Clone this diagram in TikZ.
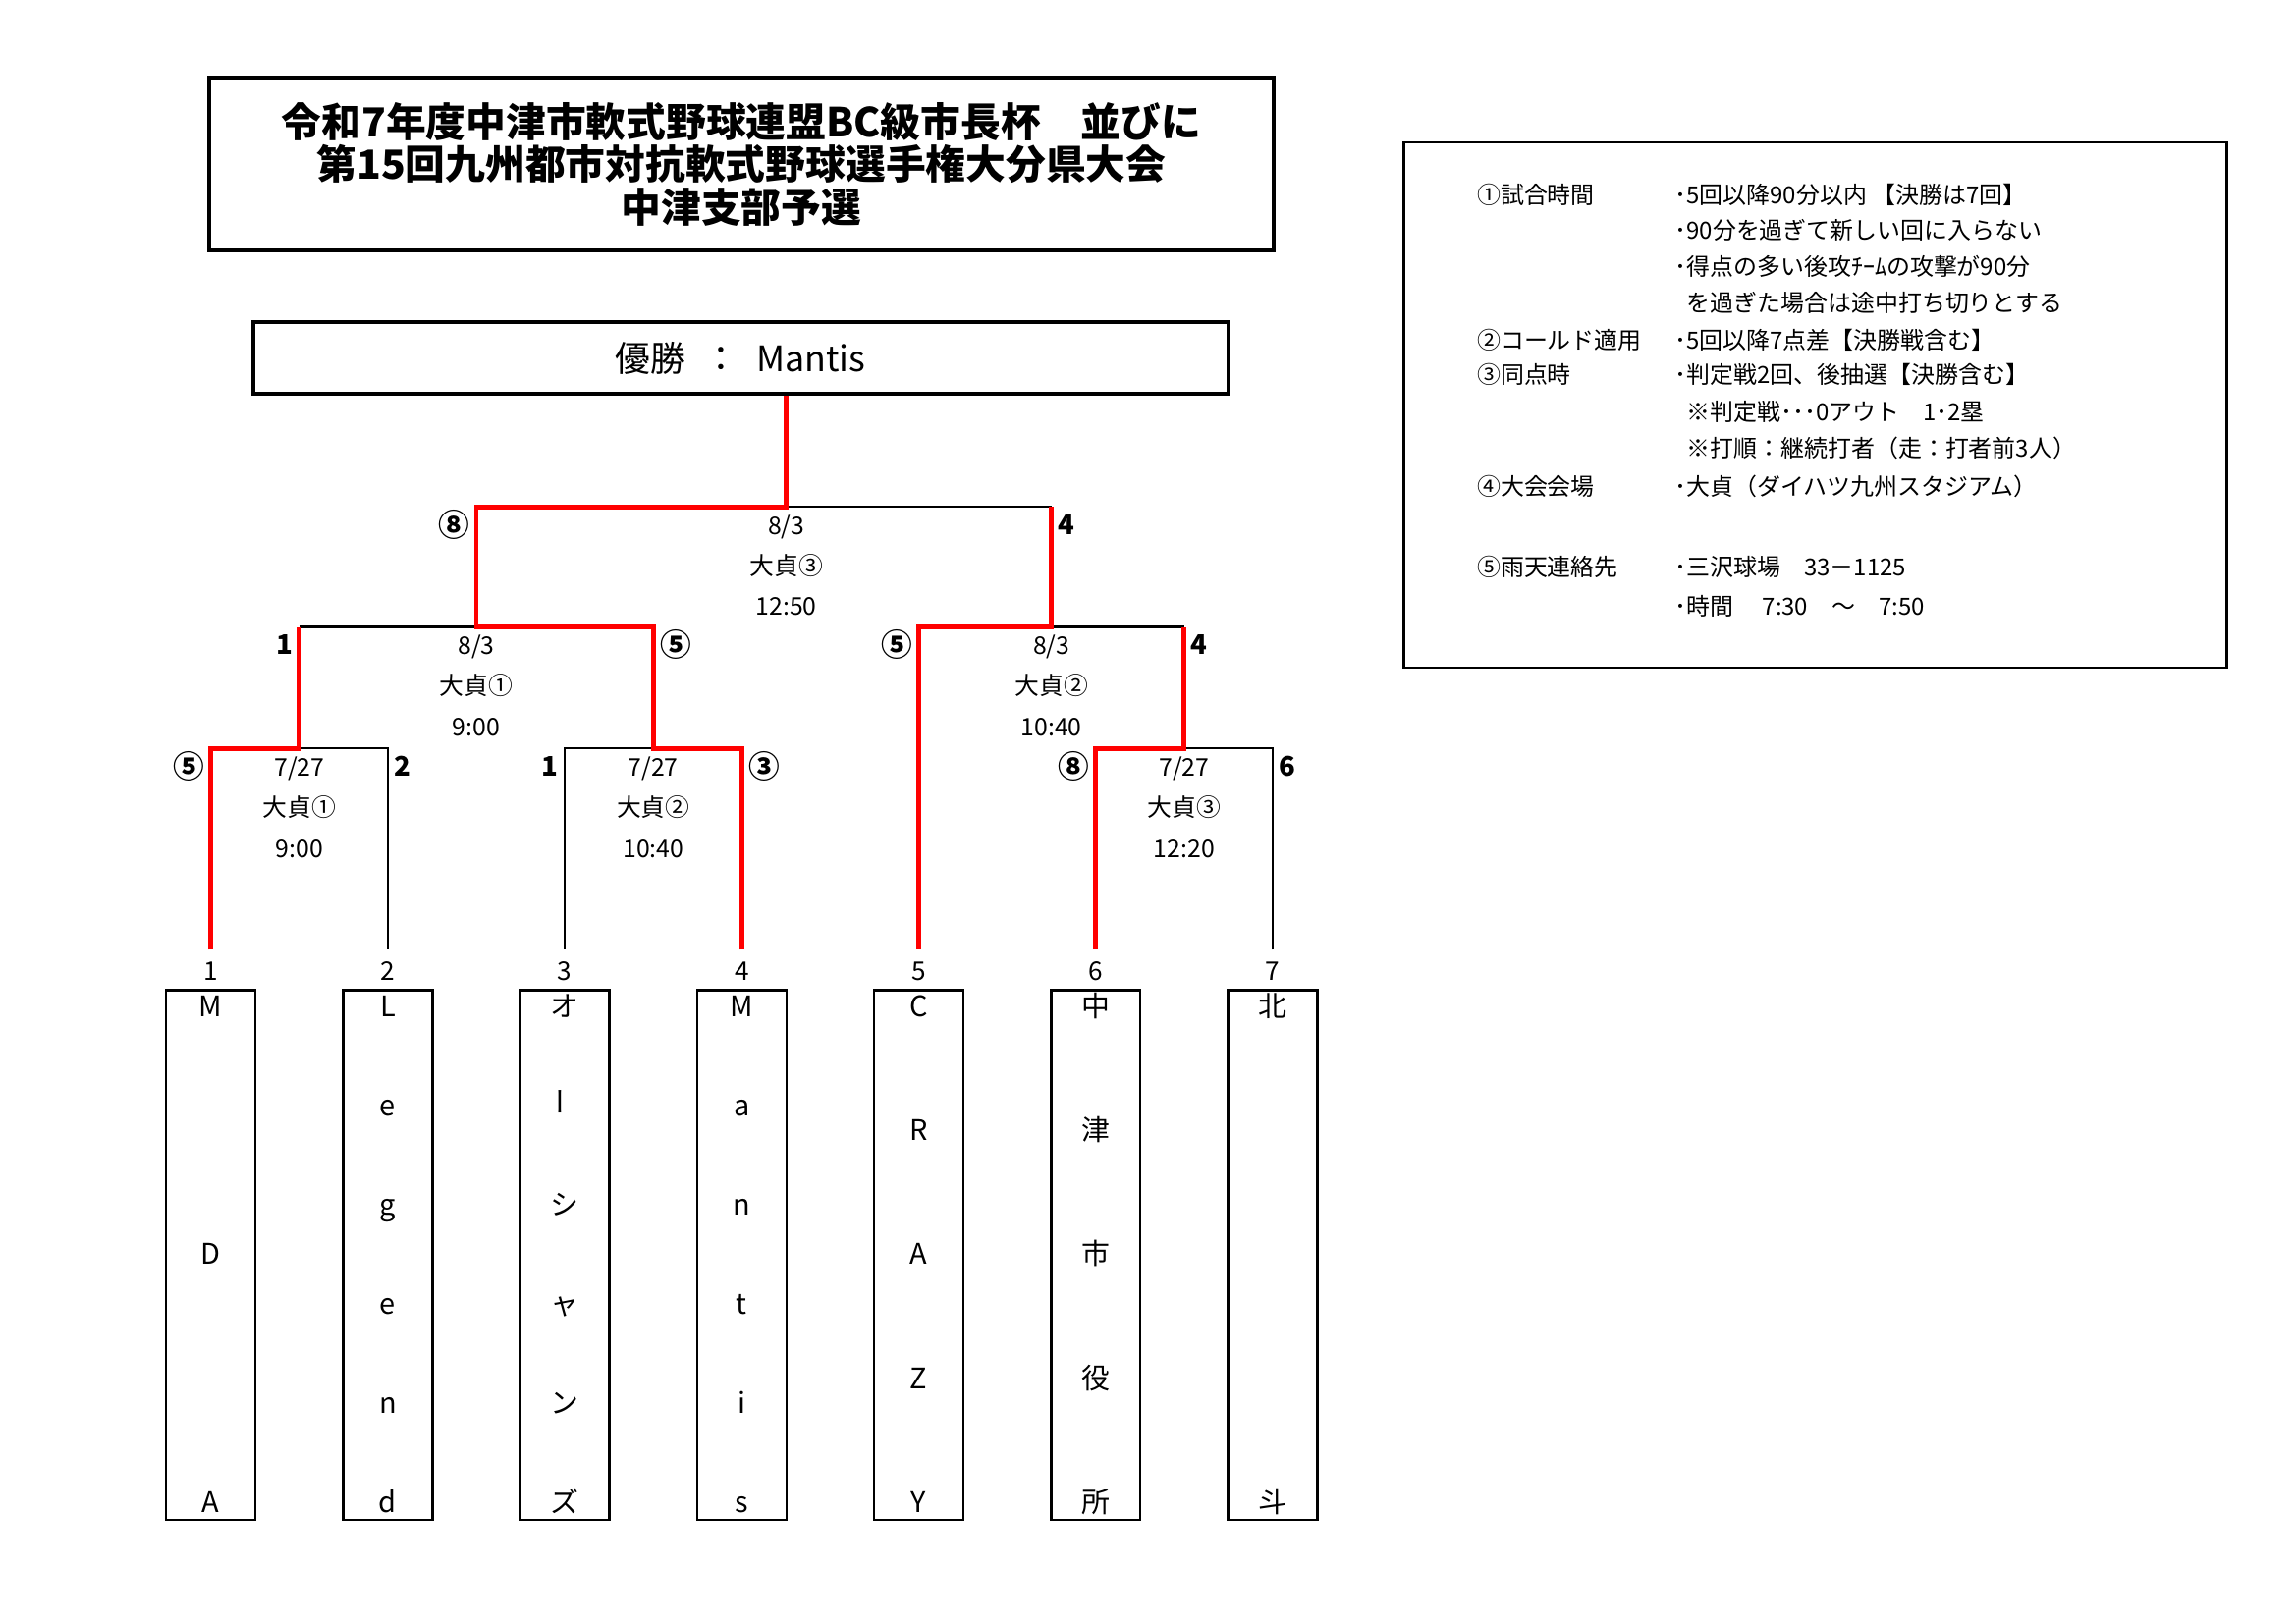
\documentclass[tikz,border=0pt]{standalone}
\usepackage{fontspec}
\setmainfont{Noto Sans CJK JP}
\usetikzlibrary{positioning}

\tikzset{
  team/.style={draw, line width=0.9pt, minimum width=1.16cm, minimum height=6.89cm, inner sep=0pt},
  letter/.style={inner sep=0pt, text height=0.75em, text depth=0.12em, font=\fontsize{10.5}{12}\selectfont},
  slot/.style={inner xsep=0pt, inner ysep=4.5pt, font=\fontsize{9.5}{11}\selectfont},
  lose/.style={line width=0.8pt},
  win/.style={red, line width=1.8pt},
  info/.style={align=center, anchor=north, inner sep=0pt, yshift=-0.1cm, font=\fontsize{9}{15}\selectfont},
  score/.style={inner sep=0pt, font=\bfseries\fontsize{10}{12}\selectfont},
  circ/.style={inner sep=0pt, font=\bfseries\fontsize{11.5}{12}\selectfont},
  note/.style={anchor=west, inner sep=0pt, font=\fontsize{8.7}{11}\selectfont},
}

\begin{document}
\begin{tikzpicture}
  \useasboundingbox (0,-0.1) rectangle (29.84,21);

  % Title
  \node[draw, line width=1.4pt, minimum width=13.83cm, minimum height=2.25cm, align=center,
        font=\bfseries\fontsize{14.8}{15.9}\selectfont] (title) at (9.635,18.865)
        {令和7年度中津市軟式野球連盟BC級市長杯　並びに\\第15回九州都市対抗軟式野球選手権大分県大会\\中津支部予選};

  % Champion
  \node[draw, line width=1.4pt, minimum width=12.67cm, minimum height=0.93cm,
        font=\fontsize{13}{15}\selectfont] (champ) at (9.625,16.345) {優勝\hspace{.5em}：\hspace{.5em}Mantis};

  % Teams
  \foreach \i in {1,...,7} {
    \node[team] (t\i) at ({2.74+2.3*(\i-1)},4.685) {};
    \node[slot, above=-0.06cm of t\i] (n\i) {\i};
  }

  % Team names
  \foreach \c [count=\k] in {M,D,A}
    \node[letter] (t1c\k) at (2.74,{7.90-(\k-1)*3.225}) {\c};
  \foreach \c [count=\k] in {L,e,g,e,n,d}
    \node[letter] (t2c\k) at (5.04,{7.90-(\k-1)*1.29}) {\c};
  \foreach \c [count=\k] in {オ,\rotatebox{90}{ー},シ,ャ,ン,ズ}
    \node[letter] (t3c\k) at (7.34,{7.90-(\k-1)*1.29}) {\c};
  \foreach \c [count=\k] in {M,a,n,t,i,s}
    \node[letter] (t4c\k) at (9.64,{7.90-(\k-1)*1.29}) {\c};
  \foreach \c [count=\k] in {C,R,A,Z,Y}
    \node[letter] (t5c\k) at (11.94,{7.90-(\k-1)*1.6125}) {\c};
  \foreach \c [count=\k] in {中,津,市,役,所}
    \node[letter] (t6c\k) at (14.24,{7.90-(\k-1)*1.6125}) {\c};
  \foreach \c [count=\k] in {北,斗}
    \node[letter] (t7c\k) at (16.54,{7.90-(\k-1)*6.45}) {\c};

  % Match points
  \coordinate (a1) at (3.89,11.27);
  \coordinate (a2) at (8.49,11.27);
  \coordinate (a3) at (15.39,11.27);
  \coordinate (b1) at (6.19,12.85);
  \coordinate (b2) at (13.665,12.85);
  \coordinate (c1) at (10.22,14.41);

  % Bracket lines
  \draw[lose] (n2.north) |- (a1);
  \draw[lose] (n3.north) |- (a2);
  \draw[lose] (n7.north) |- (a3);
  \draw[lose] (a1 |- b1) -- (b1);
  \draw[lose] (a3 |- b2) -- (b2);
  \draw[lose] (b2 |- c1) -- (c1);

  % Winners
  \draw[win] (n1.north) |- (a1) -- (a1 |- b1);
  \draw[win] (n6.north) |- (a3) -- (a3 |- b2);
  \draw[win] (n5.north) |- (b2) -- (b2 |- c1);
  \draw[win] (n4.north) |- (a2) -- (a2 |- b1) -- (b1) -- (b1 |- c1) -- (c1) -- (c1 |- champ.south);

  % Dates, grounds, times
  \node[info] (g1) at (a1) {7/27\\大貞①\\9:00};
  \node[info] (g2) at (a2) {7/27\\大貞②\\10:40};
  \node[info] (g3) at (a3) {7/27\\大貞③\\12:20};
  \node[info] (g4) at (b1) {8/3\\大貞①\\9:00};
  \node[info] (g5) at (b2) {8/3\\大貞②\\10:40};
  \node[info] (g6) at (c1) {8/3\\大貞③\\12:50};

  % Scores
  \node[circ, anchor=east] (s1) at (2.66,11.04) {⑤};
  \node[score, anchor=west] (s2) at (5.12,11.04) {2};
  \node[score, anchor=east] (s3) at (7.26,11.04) {1};
  \node[circ, anchor=west] (s4) at (9.72,11.04) {③};
  \node[circ, anchor=east] (s5) at (14.16,11.04) {⑧};
  \node[score, anchor=west] (s6) at (16.62,11.04) {6};
  \node[score, anchor=east] (s7) at (3.81,12.62) {1};
  \node[circ, anchor=west] (s8) at (8.57,12.62) {⑤};
  \node[circ, anchor=east] (s9) at (11.86,12.62) {⑤};
  \node[score, anchor=west] (s10) at (15.47,12.62) {4};
  \node[circ, anchor=east] (s11) at (6.11,14.18) {⑧};
  \node[score, anchor=west] (s12) at (13.745,14.18) {4};

  % Notes
  \node[draw, line width=1pt, minimum width=10.7cm, minimum height=6.83cm] (notes) at (23.59,15.735) {};
  \foreach \y/\txt [count=\k] in {18.47/①試合時間, 16.58/②コールド適用, 16.13/③同点時,
                                  14.68/④大会会場, 13.63/⑤雨天連絡先}
    \node[note] (h\k) at (19.19,\y) {\txt};
  \foreach \y/\txt [count=\k] in {18.47/･5回以降90分以内 【決勝は7回】,
                                  18.01/･90分を過ぎて新しい回に入らない,
                                  17.53/･得点の多い後攻ﾁｰﾑの攻撃が90分,
                                  17.06/\hspace{.5em}を過ぎた場合は途中打ち切りとする,
                                  16.58/･5回以降7点差【決勝戦含む】,
                                  16.13/･判定戦2回、後抽選【決勝含む】,
                                  15.65/\hspace{.5em}※判定戦･･･0アウト　1･2塁,
                                  15.17/\hspace{.5em}※打順：継続打者（走：打者前3人）,
                                  14.68/･大貞（ダイハツ九州スタジアム）,
                                  13.63/･三沢球場　33－1125,
                                  13.12/･時間　 7:30　～　7:50}
    \node[note] (d\k) at (21.76,\y) {\txt};
\end{tikzpicture}
\end{document}
